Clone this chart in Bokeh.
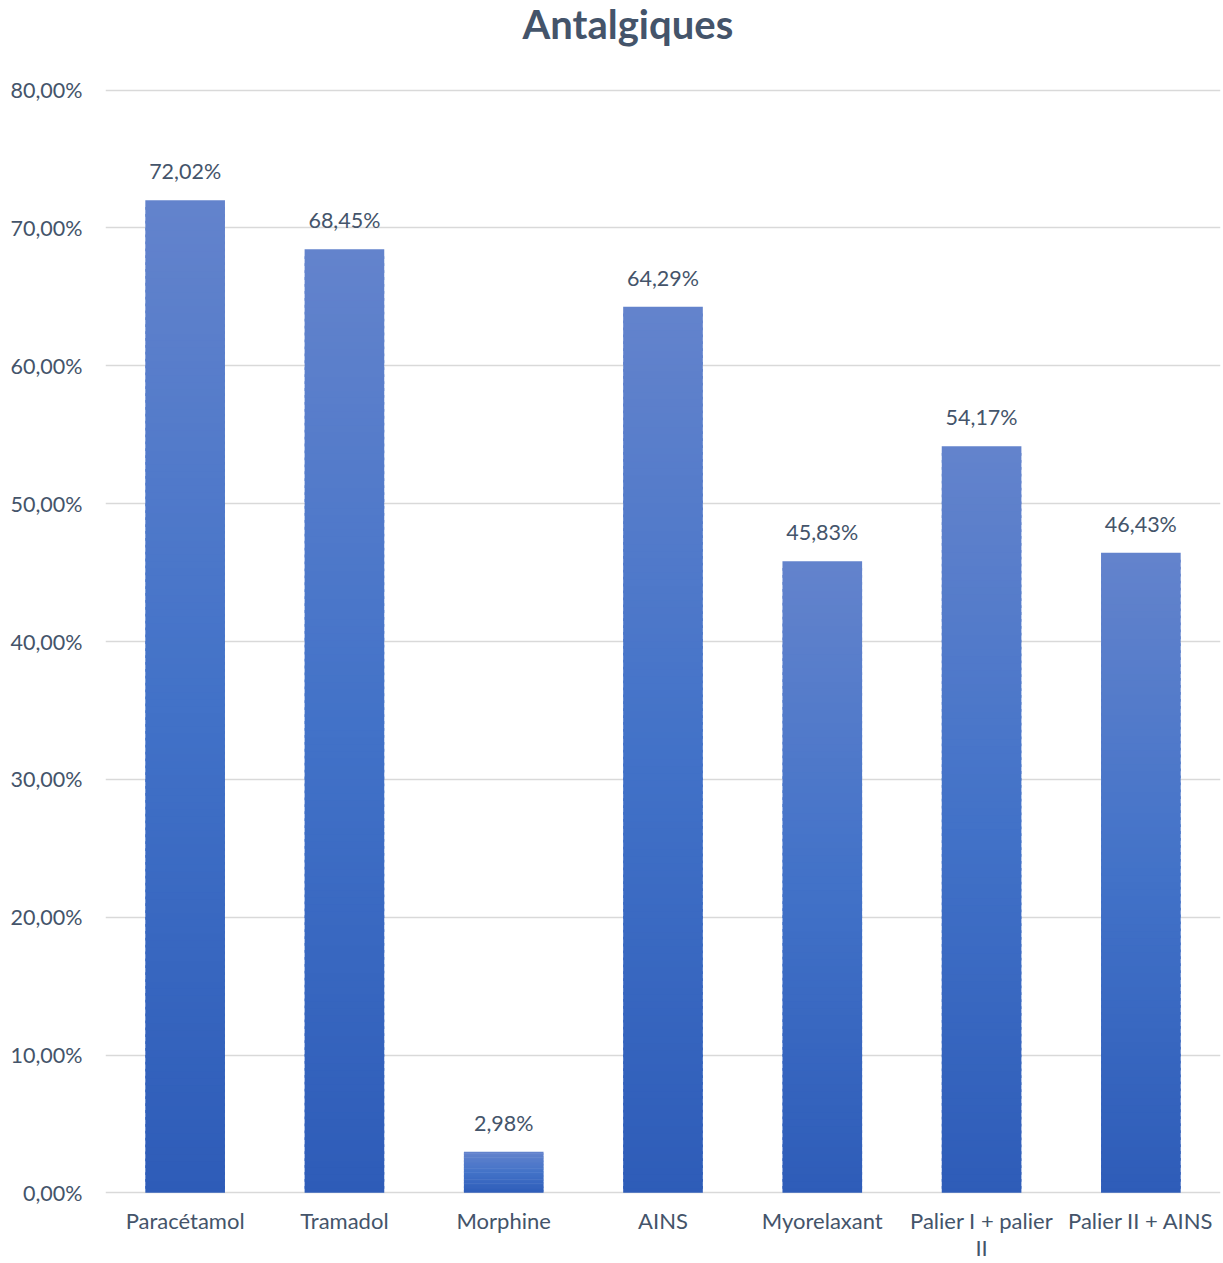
from bokeh.plotting import figure
from bokeh.layouts import column
from bokeh.models import ColumnDataSource, CustomJSTickFormatter, FixedTicker, Range1d
from bokeh.core.properties import value
from bokeh.embed import file_html
from bokeh.resources import INLINE

categories = ["Paracétamol", "Tramadol", "Morphine", "AINS", "Myorelaxant",
              "Palier I + palier\nII", "Palier II + AINS"]
values = [0.7202, 0.6845, 0.0298, 0.6429, 0.4583, 0.5417, 0.4643]
labels = ["72,02%", "68,45%", "2,98%", "64,29%", "45,83%", "54,17%", "46,43%"]
y_ticks = [0, 0.1, 0.2, 0.3, 0.4, 0.5, 0.6, 0.7, 0.8]
title_text = "Antalgiques"

FONT = "Lato"
W, H = 1223, 1263
TH = 60  # height of the title strip

# --- title strip ---
t = figure(width=W, height=TH, x_range=Range1d(0, W), y_range=Range1d(0, TH),
           output_backend="svg", toolbar_location=None, title=None,
           min_border=0, x_axis_type=None, y_axis_type=None)
t.outline_line_color = None
t.grid.visible = False
t.text(x=[573], y=[TH - 23], text=[title_text], text_align="center", text_baseline="middle",
       text_font=value(FONT), text_font_size="40px", text_font_style="bold",
       text_color="#44546A")

# --- chart ---
p = figure(x_range=categories, y_range=Range1d(-0.0012, 0.8012), width=W, height=H - TH,
           output_backend="svg", toolbar_location=None, title=None,
           min_border_left=105, min_border_right=3, min_border_top=88 - TH, min_border_bottom=66)
p.outline_line_color = None
p.background_fill_color = "white"
p.border_fill_color = "white"

# gradient bars: stacked thin segments from each bar's value
stops = [(0.0, (46, 92, 184)), (0.5, (66, 114, 200)), (1.0, (99, 131, 204))]

def grad(tt):
    for (t0, c0), (t1, c1) in zip(stops[:-1], stops[1:]):
        if tt <= t1:
            f = (tt - t0) / (t1 - t0)
            return "#%02x%02x%02x" % tuple(int(round(a + (b - a) * f)) for a, b in zip(c0, c1))
    return "#%02x%02x%02x" % stops[-1][1]

xs, bots, tops, cols = [], [], [], []
for c, v in zip(categories, values):
    n = max(30, int(v / 0.005))
    for i in range(n):
        xs.append(c)
        bots.append(max(0.0, v * (i - 0.4) / n))
        tops.append(v * (i + 1) / n)
        cols.append(grad((i + 0.5) / n))
src = ColumnDataSource(dict(x=xs, bottom=bots, top=tops, color=cols))
p.vbar(x="x", bottom="bottom", top="top", width=0.5, source=src,
       fill_color="color", line_color=None)

lsrc = ColumnDataSource(dict(x=categories, y=values, t=labels))
p.text(x="x", y="y", text="t", source=lsrc, y_offset=-16,
       text_align="center", text_baseline="bottom",
       text_font=value(FONT), text_font_size="21.5px", text_color="#44546A")

p.ygrid.grid_line_color = "#D9D9D9"
p.ygrid.grid_line_width = 1.5
p.xgrid.grid_line_color = None

p.yaxis.ticker = FixedTicker(ticks=y_ticks)
p.yaxis.formatter = CustomJSTickFormatter(code="return (tick*100).toFixed(2).replace('.', ',') + '%';")
for ax in (p.xaxis, p.yaxis):
    ax.axis_line_color = None
    ax.major_tick_line_color = None
    ax.minor_tick_line_color = None
    ax.major_label_text_font = FONT
    ax.major_label_text_color = "#44546A"
p.yaxis.major_label_text_font_size = "21.5px"
p.xaxis.major_label_text_font_size = "22px"
p.xaxis.major_label_text_line_height = 1.0
p.yaxis.major_label_standoff = 17
p.xaxis.major_label_standoff = 6

layout = column(t, p, spacing=0)
open("out.html", "w").write(file_html(layout, INLINE))
